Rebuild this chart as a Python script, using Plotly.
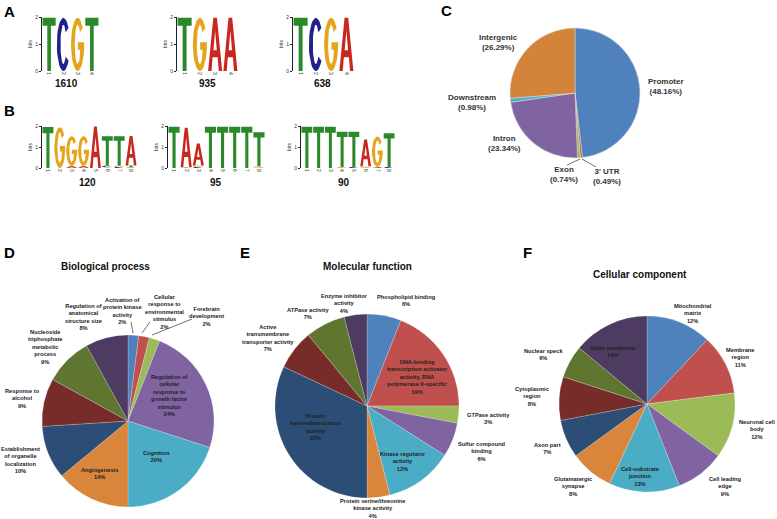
import math
import plotly.graph_objects as go

W, H = 777, 519

# ---------------- data ----------------
# sequence logos: information (bits) of each base at each position
logo_a1 = {"A": [0, 0, 0, 0], "C": [0, 1.97, 0, 0], "G": [0, 0, 1.97, 0], "T": [1.97, 0, 0, 1.97]}
logo_a2 = {"A": [0, 0, 1.97, 1.97], "C": [0, 0, 0, 0], "G": [0, 1.97, 0, 0], "T": [1.97, 0, 0, 0]}
logo_a3 = {"A": [0, 0, 0, 1.97], "C": [0, 1.97, 0, 0], "G": [0, 0, 1.97, 0], "T": [1.97, 0, 0, 0]}
logo_b1 = {
    "A": [0, 0, 0.10, 0.10, 1.98, 0, 0, 1.40],
    "C": [0, 0, 0, 0, 0, 0.08, 0.05, 0],
    "G": [0, 1.95, 1.42, 1.42, 0, 0.03, 0.06, 0.04],
    "T": [1.95, 0, 0, 0, 0, 1.40, 1.40, 0.08],
}
logo_b2 = {
    "A": [0, 1.88, 1.05, 0, 0, 0, 0, 0],
    "C": [0, 0, 0.05, 0, 0, 0, 0, 0],
    "G": [0, 0, 0.07, 0, 0, 0, 0, 0.08],
    "T": [1.97, 0.04, 0, 1.97, 1.97, 1.97, 1.97, 1.62],
}
logo_b3 = {
    "A": [0, 0, 0, 0, 0, 1.28, 0.05, 0],
    "C": [0, 0, 0, 0, 0.05, 0, 0, 0.05],
    "G": [0, 0, 0, 0.05, 0, 0.08, 1.45, 0],
    "T": [1.97, 1.97, 1.97, 1.68, 1.68, 0, 0, 1.60],
}
logo_counts = ["1610", "935", "638", "120", "95", "90"]

# genomic distribution (C)
c_labels = ["Promoter", "3' UTR", "Exon", "Intron", "Downstream", "Intergenic"]
c_values = [48.16, 0.49, 0.74, 23.34, 0.98, 26.29]

# GO terms (D, E, F)
bp_labels = ["Activation of<br>protein kinase<br>activity",
             "Cellular<br>response to<br>environmental<br>stimulus",
             "Forebrain<br>development",
             "Regulation of<br>cellular<br>response to<br>growth factor<br>stimulus",
             "Cognition", "Angiogenesis",
             "Establishment<br>of organelle<br>localization",
             "Response to<br>alcohol",
             "Nucleoside<br>triphosphate<br>metabolic<br>process",
             "Regulation of<br>anatomical<br>structure size"]
bp_values = [2, 2, 2, 24, 20, 14, 10, 9, 9, 8]

mf_labels = ["Phospholipid binding",
             "DNA-binding<br>transcription activator<br>activity, RNA<br>polymerase II-specific",
             "GTPase activity", "Sulfur compound<br>binding",
             "Kinase regulator<br>activity",
             "Protein serine/threonine<br>kinase activity",
             "Protein<br>heterodimerization<br>activity",
             "Active<br>transmembrane<br>transporter activity",
             "ATPase activity", "Enzyme inhibitor<br>activity"]
mf_values = [6, 19, 3, 6, 12, 4, 32, 7, 7, 4]

cc_labels = ["Mitochondrial<br>matrix", "Membrane<br>region", "Neuronal cell<br>body",
             "Cell leading<br>edge", "Cell-substrate<br>junction", "Glutamatergic<br>synapse",
             "Axon part", "Cytoplasmic<br>region", "Nuclear speck", "Outer membrane"]
cc_values = [12, 11, 12, 9, 13, 8, 7, 8, 6, 14]

# ---------------- styles ----------------
FONT = "Liberation Sans"
BASE_COLORS = {"A": "#C8281E", "C": "#23208A", "G": "#E4A41C", "T": "#2A8A2A"}
PIE_COLORS = ["#4F81BD", "#C0504D", "#9BBB59", "#8064A2", "#4BACC6",
              "#D9853B", "#2C4D75", "#772C2A", "#5F7530", "#4D3B62"]


def px(x):
    return x / W


def py(y):
    return 1 - y / H


def label(text, x, y, size, color="#222"):
    return dict(text=text, x=px(x), y=py(y), xref="paper", yref="paper",
                xanchor="center", yanchor="middle", align="center", showarrow=False,
                font=dict(size=size, family=FONT, color=color, weight="bold"))


# letter glyphs drawn in a unit box
def ring(a0, a1, rx=0.22, ry=0.37, steps=28):
    outer, inner = [], []
    for s in range(steps + 1):
        a = math.radians(a0 + (a1 - a0) * s / steps)
        outer.append((0.5 + 0.5 * math.cos(a), 0.5 + 0.5 * math.sin(a)))
        inner.append((0.5 + rx * math.cos(a), 0.5 + ry * math.sin(a)))
    return outer + inner[::-1]


GLYPHS = {
    "T": [[(0, 1), (1, 1), (1, 0.85), (0.64, 0.85), (0.64, 0), (0.36, 0), (0.36, 0.85), (0, 0.85)]],
    "A": [[(0, 0), (0.37, 1), (0.63, 1), (1, 0), (0.76, 0), (0.68, 0.26), (0.32, 0.26), (0.24, 0)]],
    "C": [ring(38, 322)],
    "G": [ring(38, 360), [(0.52, 0.40), (1, 0.40), (1, 0.54), (0.52, 0.54)]],
}
A_HOLE = [(0.38, 0.39), (0.62, 0.39), (0.5, 0.76)]

fig = go.Figure()

logos = [logo_a1, logo_a2, logo_a3, logo_b1, logo_b2, logo_b3]
logo_boxes = [(42, 99, 17, 71), (177, 238, 17, 71), (293, 354, 17, 71),
              (42, 137, 126, 168), (168, 265, 126, 168), (301, 395, 126, 168)]
label_pos = [(66, 83), (207, 83), (322, 83), (87, 182), (216, 182), (344, 182)]

for k, (logo, box) in enumerate(zip(logos, logo_boxes), start=1):
    n = len(logo["T"])
    paths = {b: ([], []) for b in "ACGT"}
    holes = ([], [])
    for i in range(n):
        stack = sorted([(logo[b][i], b) for b in "ACGT" if logo[b][i] > 0])
        base = 0
        for h, b in stack:
            x0 = i + 1 - 0.46
            for poly in GLYPHS[b]:
                for ux, uy in poly:
                    paths[b][0].append(x0 + 0.92 * ux)
                    paths[b][1].append(base + h * uy)
                paths[b][0].append(None)
                paths[b][1].append(None)
            if b == "A":
                for ux, uy in A_HOLE:
                    holes[0].append(x0 + 0.92 * ux)
                    holes[1].append(base + h * uy)
                holes[0].append(None)
                holes[1].append(None)
            base += h
    ax = "" if k == 1 else str(k)
    for b in "ACGT":
        if paths[b][0]:
            fig.add_trace(go.Scatter(x=paths[b][0], y=paths[b][1], mode="lines",
                                     fill="toself", fillcolor=BASE_COLORS[b],
                                     line=dict(width=0), hoverinfo="skip",
                                     showlegend=False, xaxis="x" + ax, yaxis="y" + ax))
    if holes[0]:
        fig.add_trace(go.Scatter(x=holes[0], y=holes[1], mode="lines", fill="toself",
                                 fillcolor="white", line=dict(width=0), hoverinfo="skip",
                                 showlegend=False, xaxis="x" + ax, yaxis="y" + ax))
    x0, x1, y0, y1 = box
    fig.update_layout(**{
        "xaxis" + ax: dict(domain=[px(x0), px(x1)], range=[0.5, n + 0.5], anchor="y" + ax,
                           tickvals=list(range(1, n + 1)), ticktext=[str(j) for j in range(1, n + 1)],
                           tickangle=90, tickfont=dict(size=5, family=FONT, color="#333"),
                           showline=False, showgrid=False, zeroline=False, ticks="",
                           automargin=False, fixedrange=True),
        "yaxis" + ax: dict(domain=[py(y1), py(y0)], range=[0, 2], anchor="x" + ax,
                           tickvals=[0, 1, 2], tickfont=dict(size=5, family=FONT, color="#333"),
                           showline=True, linecolor="#222", linewidth=1, ticks="outside",
                           ticklen=2, tickcolor="#222", showgrid=False, zeroline=False,
                           automargin=False, fixedrange=True,
                           title=dict(text="bits", font=dict(size=5, family=FONT, color="#333"),
                                      standoff=2)),
    })

annotations = [label(t, x, y, 10, "#111") for t, (x, y) in zip(logo_counts, label_pos)]

# ---------------- pies ----------------
def add_pie(labels, values, cx, cy, r, colors, line_color):
    fig.add_trace(go.Pie(labels=labels, values=values, sort=False, direction="clockwise",
                         rotation=0, textinfo="none", showlegend=False,
                         marker=dict(colors=colors, line=dict(color=line_color, width=0.5)),
                         domain=dict(x=[px(cx - r), px(cx + r)], y=[py(cy + r), py(cy - r)])))


add_pie(c_labels, c_values, 575, 93, 65,
        ["#4F81BD", "#C0504D", "#9BBB59", "#8064A2", "#4BACC6", "#D3843A"], "#dddddd")
add_pie(bp_labels, bp_values, 128, 421, 86, PIE_COLORS, "rgba(255,255,255,0.4)")
add_pie(mf_labels, mf_values, 367, 406, 92, PIE_COLORS, "rgba(255,255,255,0.4)")
add_pie(cc_labels, cc_values, 647, 404, 88, PIE_COLORS, "rgba(255,255,255,0.4)")

c_pos = [(666, 87), (607, 176), (564, 175), (505, 143), (472, 102), (498, 43)]
for lab, v, (x, y) in zip(c_labels, c_values, c_pos):
    annotations.append(label(f"{lab}<br>({v:.2f}%)", x, y, 8, "#333"))

bp_pos = [(123, 311), (164, 312), (206, 316), (169, 395), (156, 456), (99, 473),
          (20, 460), (22, 398), (45, 347), (83, 317)]
mf_pos = [(406, 300), (417, 377), (488, 418), (482, 451), (403, 461), (372, 508),
          (315, 427), (268, 338), (308, 313), (344, 303)]
cc_pos = [(693, 313), (740, 357), (757, 429), (725, 486), (640, 476), (573, 486),
          (547, 448), (532, 396), (543, 354), (613, 351)]
for labels, values, pos in [(bp_labels, bp_values, bp_pos), (mf_labels, mf_values, mf_pos),
                            (cc_labels, cc_values, cc_pos)]:
    for lab, v, (x, y) in zip(labels, values, pos):
        annotations.append(label(f"{lab}<br>{v}%", x, y, 5.7))

titles = [("Biological process", 106, 266), ("Molecular function", 367, 266),
          ("Cellular component", 640, 274)]
for text, x, y in titles:
    annotations.append(label(text, x, y, 10, "#111"))

panels = [("A", 9, 12), ("B", 9, 111), ("C", 447, 11), ("D", 9, 252), ("E", 245, 252), ("F", 527, 252)]
for text, x, y in panels:
    annotations.append(label(text, x, y, 15, "#000"))

# leader lines
leaders = [(567, 165, 580, 159), (596, 167, 582, 159),
           (131, 322, 133, 333), (150, 322, 142, 333), (192, 319, 152, 335)]
shapes = [dict(type="line", xref="paper", yref="paper", x0=px(a), y0=py(b), x1=px(c), y1=py(d),
               line=dict(color="#333", width=0.7)) for a, b, c, d in leaders]

fig.update_layout(width=W, height=H, margin=dict(l=0, r=0, t=0, b=0, autoexpand=False),
                  paper_bgcolor="white", plot_bgcolor="white",
                  annotations=annotations, shapes=shapes,
                  font=dict(family=FONT))

fig.write_html("out.html", config={"displayModeBar": False},
               post_script="document.body.style.margin='0';")
